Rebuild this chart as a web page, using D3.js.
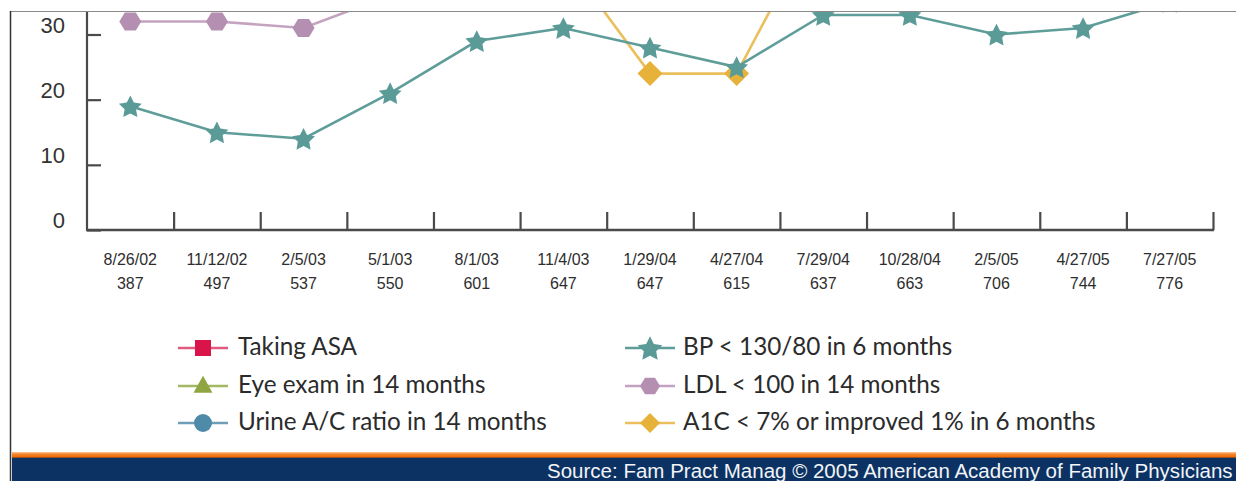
<!DOCTYPE html>
<html>
<head>
<meta charset="utf-8">
<script src="https://cdn.jsdelivr.net/npm/d3@7"></script>
<style>
  html, body { margin: 0; padding: 0; background: #fff; }
  svg { display: block; }
</style>
</head>
<body>
<svg id="chart" width="1236" height="481"></svg>
<script>
// ---------------- DATA ----------------
const dates  = ["8/26/02","11/12/02","2/5/03","5/1/03","8/1/03","11/4/03","1/29/04","4/27/04","7/29/04","10/28/04","2/5/05","4/27/05","7/27/05"];
const counts = ["387","497","537","550","601","647","647","615","637","663","706","744","776"];
const yTicks = [0, 10, 20, 30];

// Visible part of the chart (values above ~35 are cropped off in the reference, estimated)
const bpValues   = [19, 15, 14, 21, 29, 31, 28, 25, 33, 33, 30, 31, 35];
const ldlValues  = [32, 32, 31, 36, 40, 42, 41, 44, 46, 47, 48, 50, 52];
const a1cValues  = [44, 46, 45, 43, 44, 42, 24, 24, 49, 52, 54, 56, 58];
const asaValues  = [48, 52, 55, 58, 62, 64, 66, 63, 68, 70, 72, 74, 76];
const eyeValues  = [40, 44, 46, 50, 53, 55, 57, 54, 58, 60, 62, 63, 65];
const urineValues= [42, 47, 49, 52, 56, 60, 61, 58, 62, 64, 67, 69, 71];

const seriesNames = ["Taking ASA","Eye exam in 14 months","Urine A/C ratio in 14 months",
                     "BP < 130/80 in 6 months","LDL < 100 in 14 months","A1C < 7% or improved 1% in 6 months"];
const sourceText = "Source: Fam Pract Manag \u00A9 2005 American Academy of Family Physicians";

// ---------------- STYLE ----------------
const series = [
  { name: seriesNames[0], values: asaValues,   color: "#d8144a", line: "#e05a7e", shape: "square" },
  { name: seriesNames[1], values: eyeValues,   color: "#8fa53f", line: "#a3b862", shape: "triangle" },
  { name: seriesNames[2], values: urineValues, color: "#4f8aa8", line: "#6f9fb8", shape: "circle" },
  { name: seriesNames[3], values: bpValues,    color: "#5a9a97", line: "#5e9d9a", shape: "star" },
  { name: seriesNames[4], values: ldlValues,   color: "#b58fb2", line: "#c4a3c1", shape: "hexagon" },
  { name: seriesNames[5], values: a1cValues,   color: "#e6b23a", line: "#eabf5c", shape: "diamond" }
];
const drawOrder = [0, 1, 2, 4, 5, 3];

const svg = d3.select("#chart");
const W = 1236, H = 481;
const left = 87, right = 1213, base = 230;

const x = d3.scaleBand().domain(dates).range([left, right]).padding(0);
const xEdge = d3.scaleLinear().domain([0, dates.length]).range([left, right]);
const y = d3.scaleLinear().domain([0, 30]).range([base, 34.5]);

function shapePath(shape, s) {
  switch (shape) {
    case "square": return d3.symbol(d3.symbolSquare, s * s)();
    case "triangle": {
      const h = s * 0.95, w = s * 1.05;
      return `M0,${-h*0.6}L${w/2},${h*0.4}L${-w/2},${h*0.4}Z`;
    }
    case "circle": return d3.symbol(d3.symbolCircle, Math.PI * (s/2) * (s/2))();
    case "star": {
      const R = s / 2, r = R * 0.5, pts = [];
      for (let i = 0; i < 10; i++) {
        const a = -Math.PI / 2 + i * Math.PI / 5, rr = i % 2 ? r : R;
        pts.push([rr * Math.cos(a), rr * Math.sin(a) + R * 0.1]);
      }
      return "M" + pts.map(p => p.join(",")).join("L") + "Z";
    }
    case "hexagon": {
      const r = s / 2, pts = [];
      for (let i = 0; i < 6; i++) { const a = Math.PI / 3 * i; pts.push([r * Math.cos(a), r * Math.sin(a) * 0.95]); }
      return "M" + pts.map(p => p.join(",")).join("L") + "Z";
    }
    case "diamond": { const r = s / 2; return `M0,${-r}L${r},0L0,${r}L${-r},0Z`; }
  }
}
const markerSize = { square: 16, triangle: 18, circle: 18, star: 24, hexagon: 22, diamond: 25 };

svg.append("defs").append("clipPath").attr("id", "plotclip")
  .append("rect").attr("x", 10).attr("y", 11).attr("width", W - 10).attr("height", H - 11);

const plot = svg.append("g").attr("clip-path", "url(#plotclip)");

// ---- Y axis ----
const yAxis = d3.axisLeft(y).tickValues(yTicks).tickSize(-14).tickSizeOuter(0).tickPadding(22);
const yG = plot.append("g").attr("transform", `translate(${left},0)`).call(yAxis);
yG.select(".domain").remove();
yG.append("line").attr("x1", 0).attr("x2", 0).attr("y1", base).attr("y2", 0)
  .attr("stroke", "#4a4a4a").attr("stroke-width", 2.2);
yG.selectAll(".tick line").attr("stroke", "#4a4a4a").attr("stroke-width", 2.2);
yG.selectAll(".tick text")
  .attr("fill", "#333").attr("font-family", "'Liberation Sans', Arial, sans-serif")
  .attr("font-size", 22).attr("dy", "-0.1em");

// ---- X axis (boundary ticks) ----
const xAxisTicks = d3.axisBottom(xEdge).tickValues(d3.range(1, dates.length + 1))
  .tickSize(-18).tickSizeOuter(0).tickFormat("");
const xG = plot.append("g").attr("transform", `translate(0,${base})`).call(xAxisTicks);
xG.select(".domain").remove();
xG.append("line").attr("x1", left - 1).attr("x2", right + 1).attr("y1", 0).attr("y2", 0)
  .attr("stroke", "#4a4a4a").attr("stroke-width", 2.4);
xG.selectAll(".tick line").attr("stroke", "#4a4a4a").attr("stroke-width", 2.2);

// ---- X labels (band axis) ----
const xLab = d3.axisBottom(x).tickSize(0).tickPadding(0).tickFormat("");
const xl = svg.append("g").attr("transform", `translate(0,${base})`).call(xLab);
xl.select(".domain").remove();
xl.selectAll(".tick").each(function(d, i) {
  const t = d3.select(this).append("text")
    .attr("fill", "#2e2e2e").attr("text-anchor", "middle")
    .attr("font-family", "'Liberation Sans', Arial, sans-serif").attr("font-size", 16);
  t.append("tspan").attr("x", 0).attr("y", 35).text(d);
  t.append("tspan").attr("x", 0).attr("y", 59).text(counts[i]);
});

// ---- Series ----
const line = d3.line().x((d, i) => x(dates[i]) + x.bandwidth() / 2).y(d => y(d));
drawOrder.forEach(k => {
  const s = series[k];
  plot.append("path").datum(s.values).attr("d", line)
    .attr("fill", "none").attr("stroke", s.line).attr("stroke-width", 2.6);
});
drawOrder.forEach(k => {
  const s = series[k];
  plot.append("g").selectAll("path").data(s.values).join("path")
    .attr("transform", (d, i) => `translate(${x(dates[i]) + x.bandwidth() / 2},${y(d)})`)
    .attr("d", shapePath(s.shape, markerSize[s.shape]))
    .attr("fill", s.color);
});

// ---- Frame lines ----
svg.append("line").attr("x1", 10).attr("x2", W).attr("y1", 11.5).attr("y2", 11.5)
  .attr("stroke", "#8a8a8a").attr("stroke-width", 1.2);
svg.append("line").attr("x1", 10.5).attr("x2", 10.5).attr("y1", 11).attr("y2", H)
  .attr("stroke", "#333").attr("stroke-width", 1.5);

// ---- Legend ----
const legendPos = [
  { lx: 178, tx: 238, cy: 348 }, { lx: 178, tx: 238, cy: 386 }, { lx: 178, tx: 238, cy: 423 },
  { lx: 625, tx: 683, cy: 348 }, { lx: 625, tx: 683, cy: 386 }, { lx: 625, tx: 683, cy: 423 }
];
const legendMarker = { square: 16, triangle: 18, circle: 18, star: 26, hexagon: 20, diamond: 20 };
const leg = svg.append("g");
const legTexts = [];
series.forEach((s, i) => {
  const p = legendPos[i];
  const g = leg.append("g");
  g.append("line").attr("x1", p.lx).attr("x2", p.lx + 50).attr("y1", p.cy).attr("y2", p.cy)
    .attr("stroke", s.line).attr("stroke-width", 2.4);
  g.append("path").attr("transform", `translate(${p.lx + 25},${p.cy})`)
    .attr("d", shapePath(s.shape, legendMarker[s.shape])).attr("fill", s.color);
  const t = g.append("text").attr("x", p.tx).attr("y", p.cy + 7)
    .attr("fill", "#2b2b2b").attr("font-family", "Lato, 'Open Sans', sans-serif")
    .attr("font-size", 20).text(s.name);
  legTexts.push(t);
});
const refW = legTexts[2].node().getComputedTextLength();
const fs = 20 * 309 / refW;
legTexts.forEach(t => t.attr("font-size", fs));

// ---- Footer ----
const grad = svg.append("defs").append("linearGradient").attr("id", "og")
  .attr("x1", 0).attr("x2", 0).attr("y1", 0).attr("y2", 1);
grad.append("stop").attr("offset", "0%").attr("stop-color", "#fbc9a0");
grad.append("stop").attr("offset", "35%").attr("stop-color", "#f5822a");
grad.append("stop").attr("offset", "100%").attr("stop-color", "#f06400");
svg.append("rect").attr("x", 12).attr("y", 452).attr("width", W - 12).attr("height", 6).attr("fill", "url(#og)");
svg.append("rect").attr("x", 12).attr("y", 457.5).attr("width", W - 12).attr("height", 1).attr("fill", "#3a3a3a");
svg.append("rect").attr("x", 12).attr("y", 458).attr("width", W - 12).attr("height", H - 458).attr("fill", "#0b3262");
const src = svg.append("text").attr("x", 547).attr("y", 478)
  .attr("fill", "#f2f4f8").attr("font-family", "'Liberation Sans', Arial, sans-serif")
  .attr("font-size", 18).text(sourceText);
const sw = src.node().getComputedTextLength();
src.attr("font-size", 18 * 686 / sw);
</script>
</body>
</html>
